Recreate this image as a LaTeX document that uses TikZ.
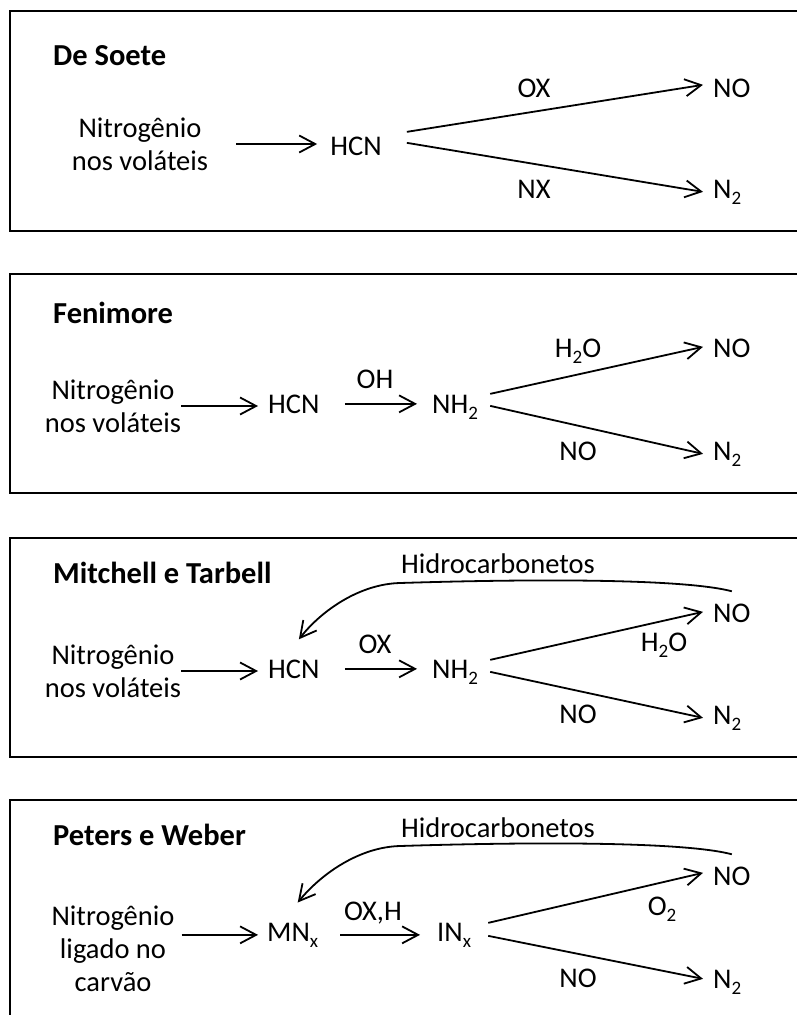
\documentclass[tikz,border=0pt]{standalone}
\usepackage{fontspec}
\setmainfont{Carlito}
\usetikzlibrary{arrows.meta,calc}
\newcommand\subs[1]{\raisebox{-6pt}{\fontsize{19}{19}\selectfont #1}}
\begin{document}
\begin{tikzpicture}[x=1pt,y=-1pt,
  txt/.style={inner sep=0pt, font=\fontsize{28.5}{33}\selectfont},
  ttl/.style={inner sep=0pt, anchor=base west, font=\fontsize{30.5}{33}\selectfont\bfseries},
  frame/.style={line width=2.5pt},
  arr/.style={line width=1.8pt, -{Straight Barb[length=16pt,width=17pt]}},
]
\clip (0,0) rectangle (797,1015);
\fill[white] (0,0) rectangle (797,1015);

% ---------- Box 1: De Soete ----------
\draw[frame] (10,11) rectangle (830,231);
\node[ttl] (t1) at (53,65) {De Soete};
\node[txt, align=center] (s1) at (140,144) {Nitrogênio\\nos voláteis};
\node[txt, anchor=base] (h1) at (356,155) {HCN};
\node[txt, anchor=base west] (no1) at (713,97) {NO};
\node[txt, anchor=base west] (n1) at (713,198) {N\subs{2}};
\node[txt, anchor=base] (l1a) at (534,97) {OX};
\node[txt, anchor=base] (l1b) at (534,198) {NX};
\draw[arr] ($(s1.east)+(28,0)$) -- ($(s1.east -| h1.west)+(-13,0)$);
\draw[arr] ([xshift=25pt,yshift=14pt]h1.east) -- ([xshift=-10pt,yshift=3pt]no1.west);
\draw[arr] ([xshift=25pt,yshift=3pt]h1.east) -- ([xshift=-10pt]n1.west);

% ---------- Box 2: Fenimore ----------
\draw[frame] (10,274) rectangle (830,493);
\node[ttl] (t2) at (53,323) {Fenimore};
\node[txt, align=center] (s2) at (113,406) {Nitrogênio\\nos voláteis};
\node[txt, anchor=base west] (h2) at (268,413) {HCN};
\node[txt, anchor=base west] (nh2) at (432,413) {NH\subs{2}};
\node[txt, anchor=base] (l2a) at (375,388) {OH};
\node[txt, anchor=base west] (no2) at (713,357) {NO};
\node[txt, anchor=base west] (n2) at (713,460) {N\subs{2}};
\node[txt, anchor=base] (l2b) at (578,357) {H\subs{2}O};
\node[txt, anchor=base] (l2c) at (578,460) {NO};
\draw[arr] (s2.east) -- ($(s2.east -| h2.west)+(-10,0)$);
\draw[arr] ($(h2.east)+(25,0)$) -- ($(h2.east -| nh2.west)+(-15,0)$);
\draw[arr] ([xshift=12pt,yshift=13pt]nh2.east) -- ([xshift=-10pt,yshift=1pt]no2.west);
\draw[arr] ([xshift=12pt,yshift=1pt]nh2.east) -- ([xshift=-10pt]n2.west);

% ---------- Box 3: Mitchell e Tarbell ----------
\draw[frame] (10,538) rectangle (830,757);
\node[ttl] (t3) at (53,583) {Mitchell e Tarbell};
\node[txt, align=center] (s3) at (113,671) {Nitrogênio\\nos voláteis};
\node[txt, anchor=base west] (h3) at (268,678) {HCN};
\node[txt, anchor=base west] (nh3) at (432,678) {NH\subs{2}};
\node[txt, anchor=base] (l3a) at (375,653) {OX};
\node[txt, anchor=base west] (no3) at (713,622) {NO};
\node[txt, anchor=base west] (n3) at (713,724) {N\subs{2}};
\node[txt, anchor=base] (l3b) at (664,651) {H\subs{2}O};
\node[txt, anchor=base] (l3c) at (578,723) {NO};
\node[txt, anchor=base] (hc3) at (498,573) {Hidrocarbonetos};
\draw[arr] (s3.east) -- ($(s3.east -| h3.west)+(-10,0)$);
\draw[arr] ($(h3.east)+(25,0)$) -- ($(h3.east -| nh3.west)+(-15,0)$);
\draw[arr] ([xshift=12pt,yshift=12pt]nh3.east) -- ([xshift=-10pt,yshift=1pt]no3.west);
\draw[arr] ([xshift=12pt]nh3.east) -- ([xshift=-10pt]n3.west);
\draw[arr] ([yshift=12pt]no3.north) .. controls (690,580) and (560,578) .. (400,583)
  .. controls (360,584) and (322,610) .. ([xshift=5pt,yshift=20pt]h3.north);

% ---------- Box 4: Peters e Weber ----------
\draw[frame] (10,800) rectangle (830,1040);
\node[ttl] (t4) at (53,845) {Peters e Weber};
\node[txt, align=center] (s4) at (113,949) {Nitrogênio\\ligado no\\carvão};
\node[txt, anchor=base west] (m4) at (267,941) {MN\subs{x}};
\node[txt, anchor=base west] (i4) at (437,941) {IN\subs{x}};
\node[txt, anchor=base] (l4a) at (373,920) {OX,H};
\node[txt, anchor=base west] (no4) at (713,885) {NO};
\node[txt, anchor=base west] (n4) at (713,988) {N\subs{2}};
\node[txt, anchor=base] (l4b) at (662,915) {O\subs{2}};
\node[txt, anchor=base] (l4c) at (578,987) {NO};
\node[txt, anchor=base] (hc4) at (498,837) {Hidrocarbonetos};
\draw[arr] ($(s4.east |- m4.west)+(7,0)$) -- ($(m4.west)+(-9,0)$);
\draw[arr] ($(m4.east)+(22,0)$) -- ($(m4.east -| i4.west)+(-17,0)$);
\draw[arr] ([xshift=17pt,yshift=12pt]i4.east) -- ([xshift=-10pt,yshift=3pt]no4.west);
\draw[arr] ([xshift=17pt,yshift=-1pt]i4.east) -- ([xshift=-10pt,yshift=3pt]n4.west);
\draw[arr] ([yshift=12pt]no4.north) .. controls (690,843) and (560,841) .. (400,846)
  .. controls (360,847) and (322,873) .. ([xshift=5pt,yshift=20pt]m4.north);
\end{tikzpicture}
\end{document}
